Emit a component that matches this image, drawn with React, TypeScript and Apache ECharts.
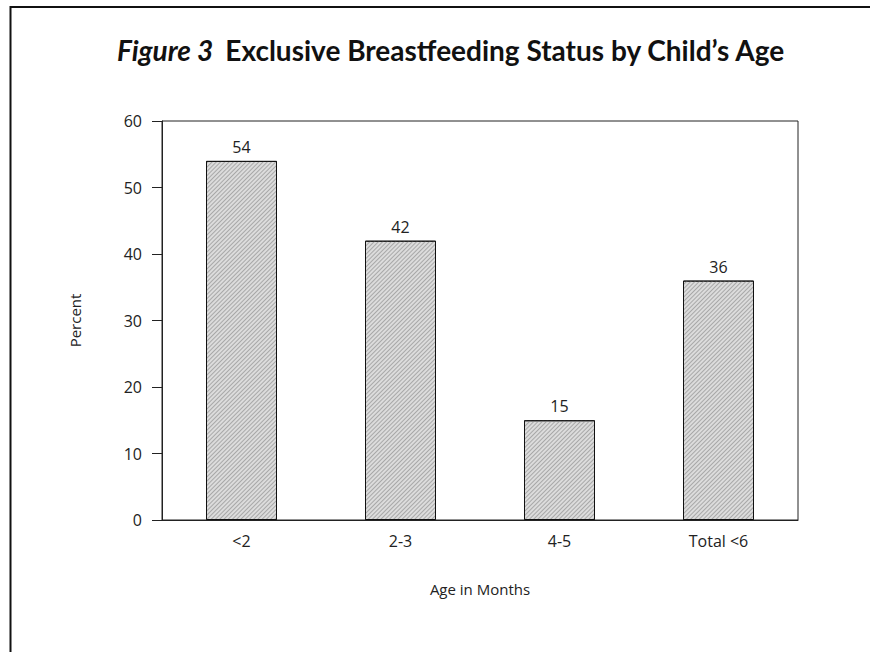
import React, { useEffect, useRef } from "react";
import * as echarts from "echarts";

const categories = ["<2", "2-3", "4-5", "Total <6"];
const percentValues = [54, 42, 15, 36];
const yTicks = { min: 0, max: 60, interval: 10 };
const titleItalic = "Figure 3";
const titleBold = "Exclusive Breastfeeding Status by Child\u2019s Age";
const yAxisName = "Percent";
const xAxisName = "Age in Months";

const FONT = "'Open Sans', 'Noto Sans', sans-serif";
const TITLE_FONT = "Lato, 'Noto Sans', sans-serif";

export default function App() {
  const ref = useRef<HTMLDivElement>(null);
  useEffect(() => {
    if (!ref.current) return;
    const chart = echarts.init(ref.current, undefined, { renderer: "svg" });
    chart.setOption({
      animation: false,
      backgroundColor: "#fff",
      textStyle: { fontFamily: FONT, color: "#222" },
      graphic: [
        {
          type: "rect",
          shape: { x: 10.5, y: 7, width: 900, height: 700 },
          style: { fill: "none", stroke: "#111", lineWidth: 2 },
          silent: true,
        },
        {
          type: "text",
          x: 117,
          y: 64,
          style: {
            text: "{i|" + titleItalic + "}{b|" + titleBold + "}",
            textVerticalAlign: "bottom",
            rich: {
              i: { fontFamily: TITLE_FONT, fontStyle: "italic", fontWeight: "bold", fontSize: 28, fill: "#111" },
              b: { fontFamily: TITLE_FONT, fontWeight: "bold", fontSize: 28, fill: "#111", padding: [0, 0, 0, 12] },
            },
          },
        },
      ],
      grid: {
        left: 162,
        top: 121,
        right: 72,
        bottom: 132,
        show: true,
        borderColor: "#222",
        borderWidth: 1,
        backgroundColor: "transparent",
      },
      xAxis: {
        type: "category",
        data: categories,
        axisLine: { lineStyle: { color: "#222", width: 1 } },
        axisTick: { show: false },
        axisLabel: { color: "#222", fontSize: 16, margin: 13, fontFamily: FONT },
        name: xAxisName,
        nameLocation: "middle",
        nameGap: 61,
        nameTextStyle: { color: "#222", fontSize: 15, fontFamily: FONT },
      },
      yAxis: {
        type: "value",
        min: yTicks.min,
        max: yTicks.max,
        interval: yTicks.interval,
        axisLine: { show: true, lineStyle: { color: "#222", width: 1 } },
        axisTick: { show: true, inside: false, length: 10, lineStyle: { color: "#222" } },
        splitLine: { show: false },
        axisLabel: { color: "#222", fontSize: 16, margin: 20, fontFamily: FONT },
        name: yAxisName,
        nameLocation: "middle",
        nameGap: 80,
        nameRotate: 90,
        nameTextStyle: { color: "#222", fontSize: 15, fontFamily: FONT },
      },
      series: [
        {
          type: "bar",
          data: percentValues,
          barWidth: 71,
          itemStyle: {
            color: "#dcdcdc",
            borderColor: "#111",
            borderWidth: 1,
            decal: {
              symbol: "rect",
              symbolSize: 1,
              color: "#a8a8a8",
              dashArrayX: [1, 0],
              dashArrayY: [1, 1.5],
              rotation: -Math.PI / 4,
            },
          },
          label: {
            show: true,
            position: "top",
            distance: 6,
            color: "#222",
            fontSize: 16,
            fontFamily: FONT,
          },
        },
      ],
    });
    return () => chart.dispose();
  }, []);
  return (
    <div
      ref={ref}
      style={{ position: "fixed", left: 0, top: 0, width: 870, height: 652 }}
    />
  );
}
